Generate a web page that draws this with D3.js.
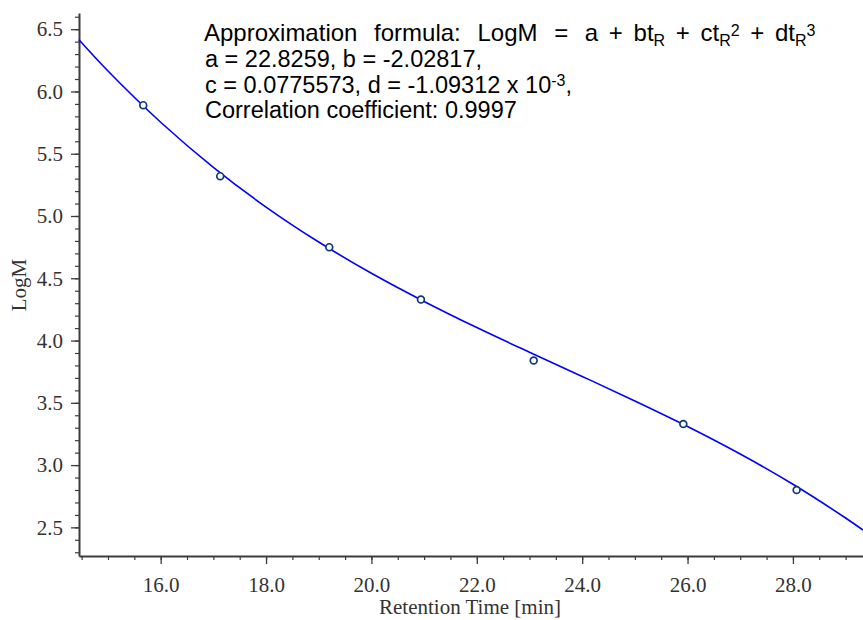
<!DOCTYPE html>
<html>
<head>
<meta charset="utf-8">
<script src="https://cdn.jsdelivr.net/npm/d3@7.9.0/dist/d3.min.js"></script>
<style>
  body { margin: 0; background: #fff; }
  svg { display: block; }
  .axis text { font-family: "Liberation Serif", "Times New Roman", serif; font-size: 21px; fill: #333; }
  .axis path, .axis line { stroke: #3c3c3c; }
  .note { font-family: "Liberation Sans", Arial, sans-serif; font-size: 23.5px; fill: #000; }
</style>
</head>
<body>
<svg id="chart" width="863" height="620"></svg>
<script>
// measured calibration standards
const retentionTimes = [15.67, 17.13, 19.20, 20.94, 23.08, 25.92, 28.07];
const logM = [5.89, 5.32, 4.75, 4.33, 3.84, 3.33, 2.80];

// fitted curve
const curveTimes = [14.45, 15, 16, 17, 18, 19, 20, 21, 22, 23, 24, 25, 26, 27, 28, 29, 29.33];
const curveLogM = [6.415, 6.164, 5.753, 5.391, 5.072, 4.791, 4.540, 4.314, 4.104, 3.906, 3.712, 3.515, 3.310, 3.089, 2.846, 2.575, 2.478];

const xTicks = [16, 18, 20, 22, 24, 26, 28];
const yTicks = [2.5, 3.0, 3.5, 4.0, 4.5, 5.0, 5.5, 6.0, 6.5];

const plot = { left: 79, right: 863, top: 13, bottom: 556 };

const svg = d3.select('#chart');

const xScale = d3.scaleLinear().domain([14.45, 29.33]).range([plot.left, plot.right]);
const yScale = d3.scaleLinear().domain([2.27, 6.63]).range([plot.bottom, plot.top]);

// minor ticks first, then the labelled majors
const xMinor = d3.range(29, 59).map((d) => d / 2);
const yMinor = d3.range(23, 67).map((d) => d / 10);

svg.append('g')
  .attr('class', 'axis')
  .attr('transform', `translate(0, ${plot.bottom})`)
  .call(d3.axisBottom(xScale).tickValues(xMinor).tickSize(4).tickSizeOuter(0).tickFormat(''))
  .call((g) => g.select('.domain').remove())
  .selectAll('line').attr('stroke-width', 1.2);

svg.append('g')
  .attr('class', 'axis')
  .attr('transform', `translate(${plot.left}, 0)`)
  .call(d3.axisLeft(yScale).tickValues(yMinor).tickSize(4).tickSizeOuter(0).tickFormat(''))
  .call((g) => g.select('.domain').remove())
  .selectAll('line').attr('stroke-width', 1.2);

const xAxis = svg.append('g')
  .attr('class', 'axis')
  .attr('transform', `translate(0, ${plot.bottom})`)
  .call(d3.axisBottom(xScale).tickValues(xTicks).tickSize(8).tickSizeOuter(0).tickPadding(13).tickFormat(d3.format('.1f')));
xAxis.select('.domain').attr('stroke-width', 2);
xAxis.selectAll('line').attr('stroke-width', 1.3);

const yAxis = svg.append('g')
  .attr('class', 'axis')
  .attr('transform', `translate(${plot.left}, 0)`)
  .call(d3.axisLeft(yScale).tickValues(yTicks).tickSize(8).tickSizeOuter(0).tickPadding(8).tickFormat(d3.format('.1f')));
yAxis.select('.domain').attr('stroke-width', 2);
yAxis.selectAll('line').attr('stroke-width', 1.3);

// axis titles
svg.append('text')
  .attr('x', 470)
  .attr('y', 614)
  .attr('text-anchor', 'middle')
  .style('font-family', '"Liberation Serif", serif')
  .style('font-size', '21px')
  .style('fill', '#333')
  .text('Retention Time [min]');

svg.append('text')
  .attr('transform', 'translate(26, 285) rotate(-90)')
  .attr('text-anchor', 'middle')
  .style('font-family', '"Liberation Serif", serif')
  .style('font-size', '21px')
  .style('fill', '#333')
  .text('LogM');

// fit curve
const line = d3.line()
  .x((d, i) => xScale(curveTimes[i]))
  .y((d) => yScale(d))
  .curve(d3.curveCatmullRom);

svg.append('path')
  .datum(curveLogM)
  .attr('d', line)
  .attr('fill', 'none')
  .attr('stroke', '#0000ff')
  .attr('stroke-width', 1.6);

// data points
svg.append('g')
  .selectAll('circle')
  .data(retentionTimes)
  .join('circle')
  .attr('cx', (d) => xScale(d))
  .attr('cy', (d, i) => yScale(logM[i]))
  .attr('r', 3.4)
  .attr('fill', '#fff')
  .attr('stroke', '#0d3b6e')
  .attr('stroke-width', 1.7);

// annotation with sub/superscripts
const note = svg.append('text')
  .attr('class', 'note')
  .attr('x', 204)
  .attr('y', 41)
  .style('font-size', '24px');

note.append('tspan').style('word-spacing', '10px').text('Approximation formula: LogM = a');
note.append('tspan').style('word-spacing', '4px').text(' + bt');
note.append('tspan').attr('dy', 5).style('font-size', '16px').text('R');
note.append('tspan').attr('dy', -5).style('word-spacing', '4px').text(' + ct');
note.append('tspan').attr('dy', 5).style('font-size', '16px').text('R');
note.append('tspan').attr('dy', -10).style('font-size', '16px').text('2');
note.append('tspan').attr('dy', 5).style('word-spacing', '4px').text(' + dt');
note.append('tspan').attr('dy', 5).style('font-size', '16px').text('R');
note.append('tspan').attr('dy', -10).style('font-size', '16px').text('3');

svg.append('text')
  .attr('class', 'note')
  .attr('x', 205).attr('y', 67)
  .text('a = 22.8259, b = -2.02817,');

const line3 = svg.append('text')
  .attr('class', 'note')
  .attr('x', 205).attr('y', 93);
line3.append('tspan').text('c = 0.0775573, d = -1.09312 x 10');
line3.append('tspan').attr('dy', -7).style('font-size', '16px').text('-3');
line3.append('tspan').attr('dy', 7).text(',');

svg.append('text')
  .attr('class', 'note')
  .attr('x', 205).attr('y', 118)
  .text('Correlation coefficient: 0.9997');
</script>
</body>
</html>
